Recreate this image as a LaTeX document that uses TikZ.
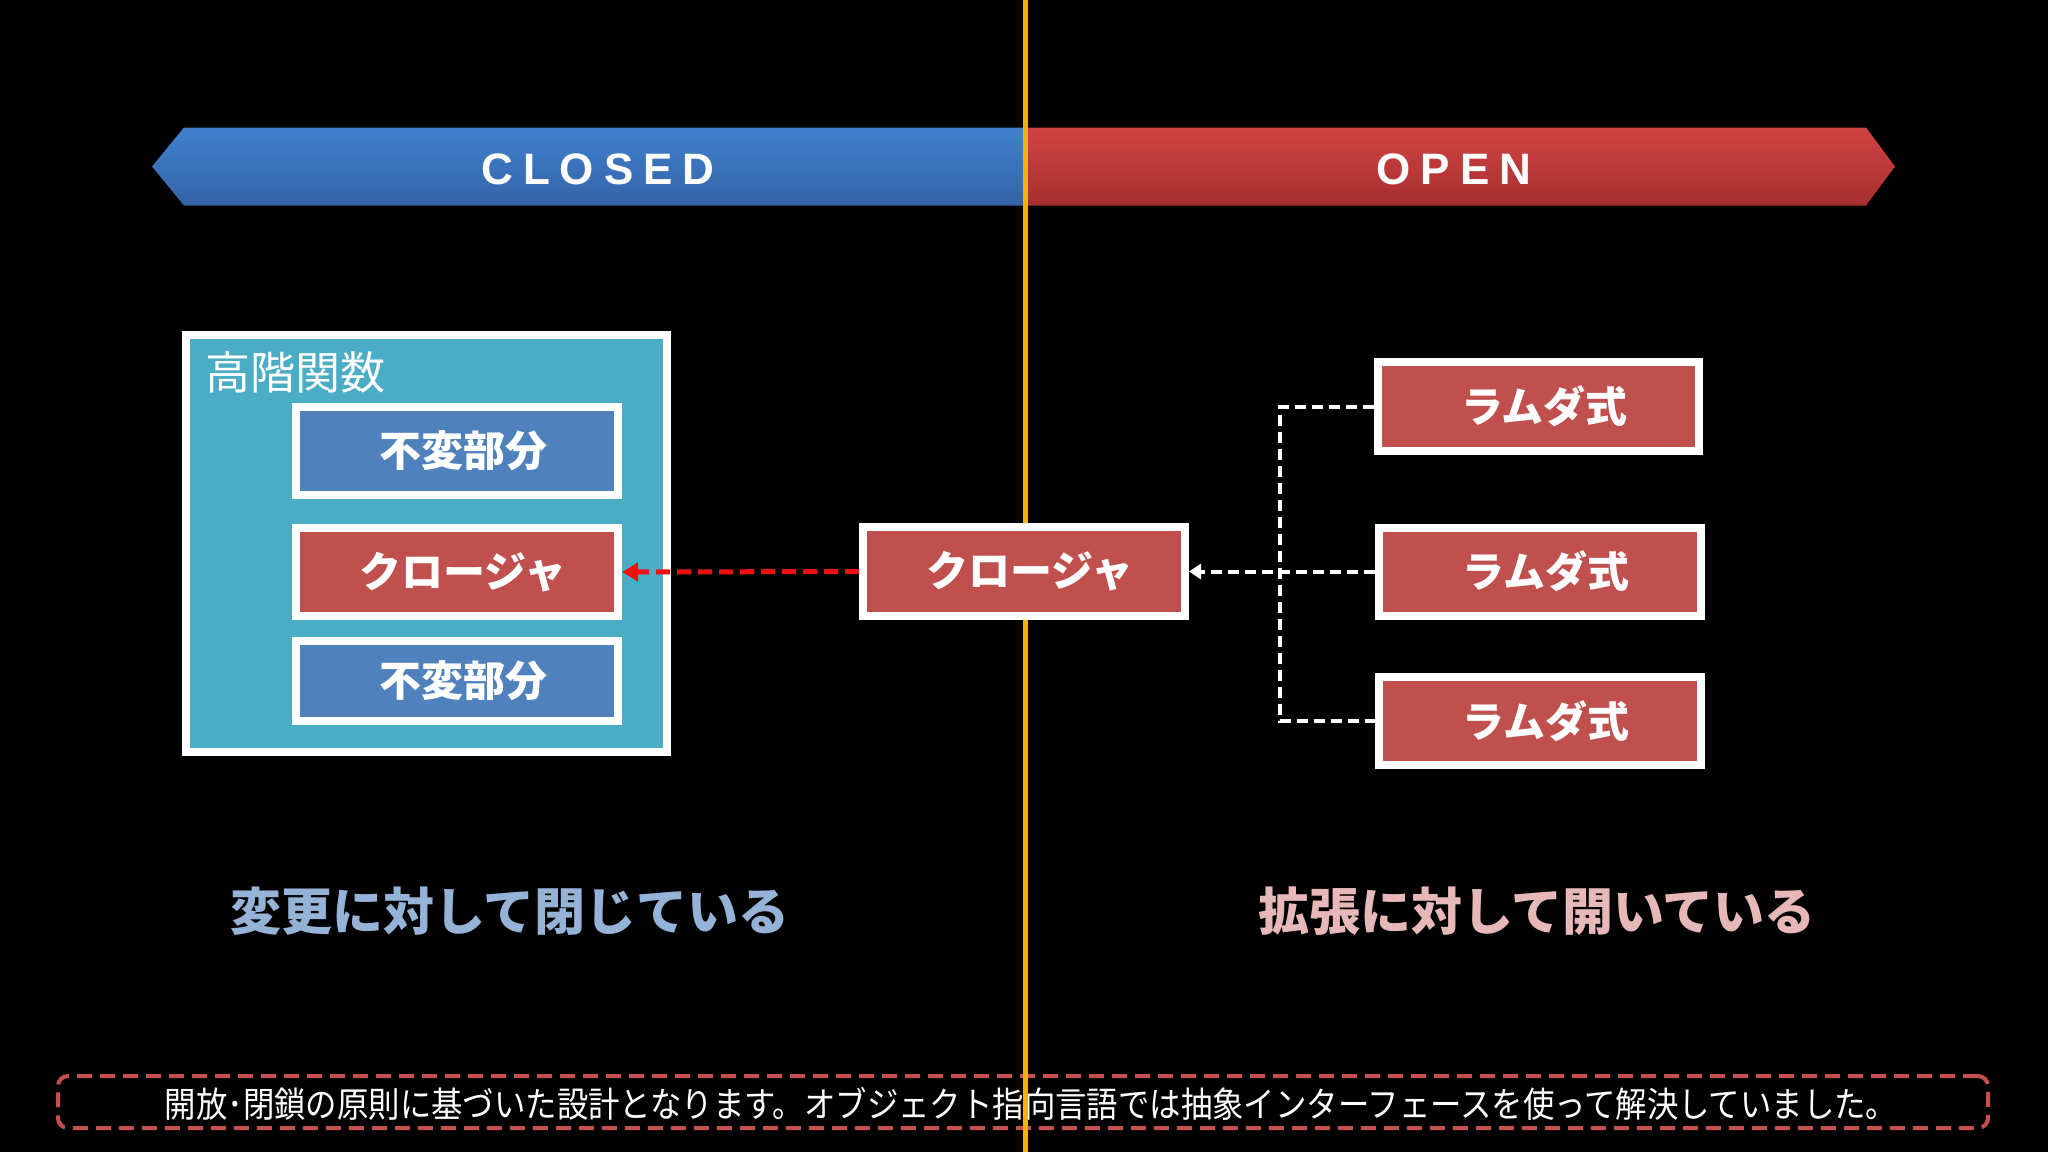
\documentclass[tikz,border=0pt]{standalone}
\usepackage{fontspec}
\setmainfont{Liberation Sans}
\newfontfamily\jp{Noto Sans CJK JP}
\usetikzlibrary{arrows.meta}
\definecolor{tealbox}{HTML}{4BACC6}
\definecolor{boxblue}{HTML}{4F81BD}
\definecolor{boxred}{HTML}{C0504D}
\definecolor{phblue}{HTML}{95B3D7}
\definecolor{phpink}{HTML}{E6B9B8}
\definecolor{divcol}{HTML}{F2B400}
\definecolor{capred}{HTML}{C4514E}
\definecolor{bbtop}{HTML}{3F81CF}
\definecolor{bbbot}{HTML}{3563A7}
\definecolor{brtop}{HTML}{D24343}
\definecolor{brbot}{HTML}{A52F2F}
\definecolor{arrred}{HTML}{F01010}
\tikzset{
  wbox/.style={draw=white, line width=8pt, inner sep=0pt, text=white,
    font=\jp\bfseries\fontsize{42}{50}\selectfont},
  bluebox/.style={wbox, fill=boxblue},
  redbox/.style={wbox, fill=boxred},
  hofbox/.style={draw=white, line width=8pt, fill=tealbox, inner sep=0pt},
  bannertxt/.style={text=white, font=\bfseries\fontsize{44}{50}\selectfont, inner sep=0pt},
  phrase/.style={font=\jp\bfseries\fontsize{51}{60}\selectfont, inner sep=0pt},
  capbox/.style={draw=capred, line width=4pt, dash pattern=on 15pt off 8pt, rounded corners=10pt, inner sep=0pt},
  captxt/.style={text=white, font=\jp\fontsize{31.4}{36}\selectfont, inner sep=0pt},
  divline/.style={draw=divcol, line width=5pt},
  reddash/.style={draw=arrred, line width=5pt, dash pattern=on 14pt off 7pt, -{Triangle[length=16pt,width=18pt]}},
  whitedash/.style={draw=white, line width=4pt, dash pattern=on 11pt off 6pt},
}
\begin{document}
\begin{tikzpicture}[x=1pt,y=-1pt]
\useasboundingbox (0,0) rectangle (2048,1152);
\fill[black] (0,0) rectangle (2048,1152);
% banners
\shade[top color=bbtop, bottom color=bbbot] (152,166.5) -- (184,127.5) -- (1025,127.5) -- (1025,205.5) -- (184,205.5) -- cycle;
\shade[top color=brtop, bottom color=brbot] (1025,127.5) -- (1866,127.5) -- (1895,166.5) -- (1866,205.5) -- (1025,205.5) -- cycle;
\node[bannertxt] (closed) at (598,169) {C\kern10pt L\kern10pt O\kern10pt S\kern10pt E\kern10pt D};
\node[bannertxt] (open) at (1454,169) {O\kern10pt P\kern10pt E\kern10pt N};
% caption
\node[capbox, minimum width=1930pt, minimum height=52pt] (capframe) at (1023,1102) {};
\node[captxt] (cap) at (1031,1104) {\scalebox{1}[1.12]{開放･閉鎖の原則に基づいた設計となります。オブジェクト指向言語では抽象インターフェースを使って解決していました。}};
% divider
\coordinate (dtop) at (1025,0);
\coordinate (dbot) at (1025,1152);
\draw[divline] (dtop) -- (dbot);
% left: higher-order function
\node[hofbox, minimum width=481pt, minimum height=417pt] (hof) at (426.5,543.5) {};
\node[anchor=west, inner sep=0pt, text=white, font=\jp\fontsize{45}{52}\selectfont] (hoflabel) at (205,372) {高階関数};
\node[bluebox, minimum width=322pt, minimum height=88pt] (inv1) at (457,451) {\kern12pt 不変部分};
\node[redbox, minimum width=322pt, minimum height=88pt] (clos1) at (457,572) {\kern12pt クロージャ};
\node[bluebox, minimum width=322pt, minimum height=80pt] (inv2) at (457,681) {\kern12pt 不変部分};
% center closure
\node[redbox, minimum width=322pt, minimum height=89pt] (clos) at (1024,571.5) {\kern12pt クロージャ};
% lambdas
\node[redbox, minimum width=321pt, minimum height=89pt] (lam1) at (1538.5,406.5) {\kern12pt ラムダ式};
\node[redbox, minimum width=322pt, minimum height=88pt] (lam2) at (1540,571.5) {\kern12pt ラムダ式};
\node[redbox, minimum width=322pt, minimum height=88pt] (lam3) at (1540,721) {\kern12pt ラムダ式};
% connectors
\draw[reddash] (clos.west) -- (clos1.east);
\coordinate (jx) at (1280,0);
\draw[whitedash] (lam1.west) -- (lam1.west -| jx) -- (lam3.west -| jx) -- (lam3.west);
\draw[whitedash, -{Triangle[length=12pt,width=15pt]}] (lam2.west) -- (clos.east);
% phrases
\node[phrase, text=phblue] (p1) at (510,911) {変更に対して閉じている};
\node[phrase, text=phpink] (p2) at (1537,911) {拡張に対して開いている};
\end{tikzpicture}
\end{document}
